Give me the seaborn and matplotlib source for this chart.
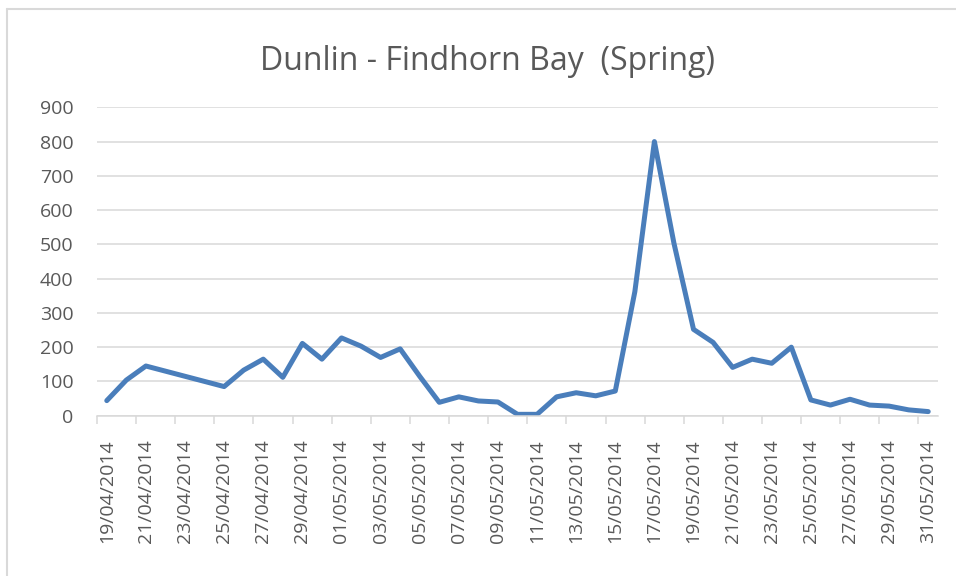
import matplotlib
matplotlib.use("Agg")
import matplotlib.pyplot as plt
import matplotlib.dates as mdates
from matplotlib.lines import Line2D
import seaborn as sns
import pandas as pd

# ---- data ----
dates = ["19/04/2014", "20/04/2014", "21/04/2014", "25/04/2014", "26/04/2014",
         "27/04/2014", "28/04/2014", "29/04/2014", "30/04/2014", "01/05/2014",
         "02/05/2014", "03/05/2014", "04/05/2014", "05/05/2014", "06/05/2014",
         "07/05/2014", "08/05/2014", "09/05/2014", "10/05/2014", "11/05/2014",
         "12/05/2014", "13/05/2014", "14/05/2014", "15/05/2014", "16/05/2014",
         "17/05/2014", "18/05/2014", "19/05/2014", "20/05/2014", "21/05/2014",
         "22/05/2014", "23/05/2014", "24/05/2014", "25/05/2014", "26/05/2014",
         "27/05/2014", "28/05/2014", "29/05/2014", "30/05/2014", "31/05/2014"]
counts = [44, 104, 145, 85, 133,
          165, 112, 211, 165, 227,
          203, 170, 195, 115, 39,
          55, 43, 40, 4, 4,
          55, 67, 58, 72, 362,
          800, 503, 252, 214, 141,
          165, 153, 200, 46, 31,
          48, 31, 28, 17, 12]
y_ticks = [0, 100, 200, 300, 400, 500, 600, 700, 800, 900]
title = "Dunlin - Findhorn Bay  (Spring)"

sns.set_theme(style="white")
plt.rcParams['font.family'] = ['Open Sans', 'DejaVu Sans']

TXT = "#595959"
GRID = "#d9d9d9"
LINE = "#4A7EBB"

df = pd.DataFrame({"date": pd.to_datetime(dates, format="%d/%m/%Y"),
                   "count": counts})

W, H = 956, 576
fig = plt.figure(figsize=(W / 100, H / 100), dpi=100)
fig.patch.set_facecolor("white")

left, right, top, bottom = 97, 938, 107.3, 415.7
ax = fig.add_axes([left / W, 1 - bottom / H, (right - left) / W, (bottom - top) / H])

sns.lineplot(data=df, x="date", y="count", ax=ax, color=LINE, linewidth=3.6,
             solid_joinstyle="round", solid_capstyle="round")

start = df["date"].min()
end = df["date"].max()
half = pd.Timedelta(hours=12)
ax.set_xlim(start - half, end + half)
ax.set_ylim(0, 900)

# y axis
ax.set_yticks(y_ticks)
ax.set_yticklabels([str(v) for v in y_ticks])
ax.grid(axis="y", color=GRID, linewidth=1.1)
ax.grid(axis="x", visible=False)
ax.tick_params(axis="y", length=0, pad=17, labelsize=14, labelcolor=TXT)

# x axis: labels every 2 days, tick marks between
major = pd.date_range(start, end, freq="2D")
minor = pd.date_range(start - half, end, freq="2D")
ax.set_xticks(major)
ax.set_xticklabels([d.strftime("%d/%m/%Y") for d in major], rotation=90)
ax.set_xticks(minor, minor=True)
ax.tick_params(axis="x", which="major", length=0, pad=17, labelsize=14, labelcolor=TXT)
ax.tick_params(axis="x", which="minor", length=6, width=1.1, color=GRID, bottom=True)

for s in ["left", "right", "top"]:
    ax.spines[s].set_visible(False)
ax.spines["bottom"].set_color(GRID)
ax.spines["bottom"].set_linewidth(1.1)
ax.set_xlabel("")
ax.set_ylabel("")
for lab in ax.get_xticklabels():
    lab.set_va("top")

# title
fig.text(488 / W, 1 - 70 / H, title, ha="center", va="baseline",
         fontsize=23, color=TXT)

# chart outer border (left and top visible)
fig.add_artist(Line2D([7 / W, 7 / W], [1 - 9 / H, 0], transform=fig.transFigure,
                      color=GRID, linewidth=1.5))
fig.add_artist(Line2D([7 / W, 1], [1 - 9 / H, 1 - 9 / H], transform=fig.transFigure,
                      color=GRID, linewidth=1.5))

fig.savefig("out.png", dpi=100)
